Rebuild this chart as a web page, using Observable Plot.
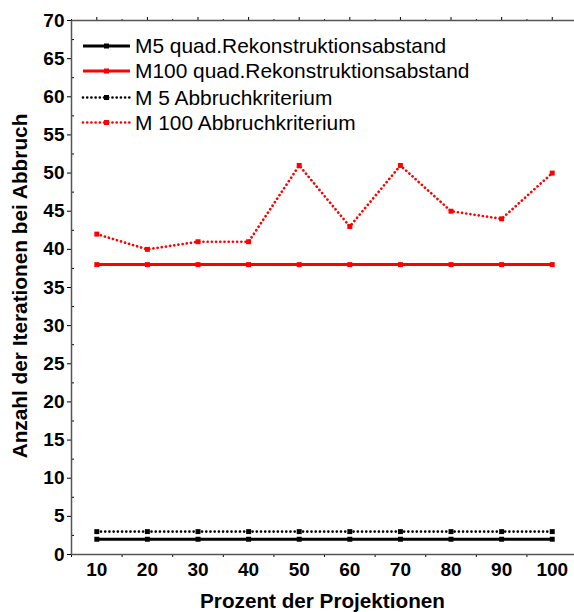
<!DOCTYPE html>
<html>
<head>
<meta charset="utf-8">
<script src="https://cdn.jsdelivr.net/npm/d3@7"></script>
<script src="https://cdn.jsdelivr.net/npm/@observablehq/plot@0.6"></script>
<style>
  html, body { margin: 0; padding: 0; background: #fff; }
  #chart svg { display: block; font-family: "Liberation Sans", Arial, sans-serif; }
</style>
</head>
<body>
<div id="chart"></div>
<script>
// Prozent der Projektionen (x) and iterations until stop for each setup
const percent = [10, 20, 30, 40, 50, 60, 70, 80, 90, 100];
const m5Quad = [2, 2, 2, 2, 2, 2, 2, 2, 2, 2];
const m100Quad = [38, 38, 38, 38, 38, 38, 38, 38, 38, 38];
const m5Stop = [3, 3, 3, 3, 3, 3, 3, 3, 3, 3];
const m100Stop = [42, 40, 41, 41, 51, 43, 51, 45, 44, 50];

const seriesNames = [
  "M5 quad.Rekonstruktionsabstand",
  "M100 quad.Rekonstruktionsabstand",
  "M 5 Abbruchkriterium",
  "M 100 Abbruchkriterium"
];
const seriesValues = [m5Quad, m100Quad, m5Stop, m100Stop];
const seriesColors = ["#000000", "#ff0000", "#000000", "#ff0000"];
const seriesDotted = [false, false, true, true];

const yMajor = d3.range(0, 71, 5);
const yMinor = d3.range(2.5, 70, 5);
const xMajor = percent;
const xMinor = d3.range(5, 101, 10);

const xTitle = "Prozent der Projektionen";
const yTitle = "Anzahl der Iterationen bei Abbruch";

// dotted style: round caps on near-zero dashes give a row of round dots
const dotDash = "0.01,4.2";

const rows = seriesValues.flatMap((vals, s) =>
  vals.map((v, i) => ({series: s, x: percent[i], y: v}))
);

const lineMarks = seriesValues.map((vals, s) =>
  Plot.line(rows.filter(d => d.series === s), {
    x: "x", y: "y",
    stroke: seriesColors[s],
    strokeWidth: seriesDotted[s] ? 2.7 : 3,
    strokeLinecap: seriesDotted[s] ? "round" : "butt",
    strokeDasharray: seriesDotted[s] ? dotDash : "none"
  })
);
const dotMarks = seriesValues.map((vals, s) =>
  Plot.dot(rows.filter(d => d.series === s), {
    x: "x", y: "y", symbol: "square", r: 2.8,
    fill: seriesColors[s], stroke: "none"
  })
);

const axisColor = "#555555";
const tickFont = {fontSize: 19, fontWeight: "bold"};

const plot = Plot.plot({
  width: 574,
  height: 612,
  marginLeft: 71,
  marginRight: 0,
  marginTop: 20,
  marginBottom: 58,
  x: {domain: [5, 104.4]},
  y: {domain: [0, 70]},
  marks: [
    // left axis: labelled major ticks outside, minor ticks inside
    Plot.axisY(yMajor, {anchor: "left", tickSize: 4, tickPadding: 3, label: null, ...tickFont, color: "#000"}),
    Plot.axisY(yMinor, {anchor: "left", tickSize: 3, dx: 3, text: null, label: null}),
    // bottom axis: labels at the tens, small ticks at the fives
    Plot.axisX(xMajor, {anchor: "bottom", tickSize: 0, tickPadding: 8, label: null, ...tickFont, color: "#000"}),
    Plot.axisX(xMinor, {anchor: "bottom", tickSize: 3, text: null, label: null}),
    // top axis: ticks only
    Plot.axisX(xMajor, {anchor: "top", tickSize: 4, text: null, label: null}),
    Plot.axisX(xMinor, {anchor: "top", tickSize: 2, text: null, label: null}),
    Plot.ruleY([0], {stroke: axisColor, strokeWidth: 1.5}),
    Plot.ruleY([70], {stroke: axisColor, strokeWidth: 1.5}),
    Plot.ruleX([5], {stroke: axisColor, strokeWidth: 1.5}),
    ...lineMarks,
    ...dotMarks
  ]
});

const svg = d3.select(plot);

// axis titles
svg.append("text")
  .attr("x", 322.5).attr("y", 607.5)
  .attr("text-anchor", "middle")
  .attr("font-size", 20.7).attr("font-weight", "bold")
  .attr("fill", "#000")
  .text(xTitle);

svg.append("text")
  .attr("transform", "translate(27,286) rotate(-90)")
  .attr("text-anchor", "middle")
  .attr("font-size", 20.8).attr("font-weight", "bold")
  .attr("fill", "#000")
  .text(yTitle);

// legend in the upper left of the plot area
const legend = svg.append("g").attr("text-anchor", "start");
const legendRowY = [46, 71, 97.5, 122.5];
seriesNames.forEach((name, s) => {
  const g = legend.append("g").attr("transform", `translate(0,${legendRowY[s]})`);
  g.append("line")
    .attr("x1", 83).attr("x2", 130).attr("y1", 0).attr("y2", 0)
    .attr("stroke", seriesColors[s])
    .attr("stroke-width", seriesDotted[s] ? 2.7 : 3)
    .attr("stroke-linecap", seriesDotted[s] ? "round" : "butt")
    .attr("stroke-dasharray", seriesDotted[s] ? dotDash : null);
  g.append("rect")
    .attr("x", 104).attr("y", -2.5).attr("width", 5).attr("height", 5)
    .attr("fill", seriesColors[s]);
  g.append("text")
    .attr("x", 135).attr("y", 0)
    .attr("dy", "0.35em")
    .attr("text-anchor", "start")
    .attr("font-size", 20.9)
    .attr("fill", "#000")
    .text(name);
});

document.getElementById("chart").appendChild(plot);
</script>
</body>
</html>
